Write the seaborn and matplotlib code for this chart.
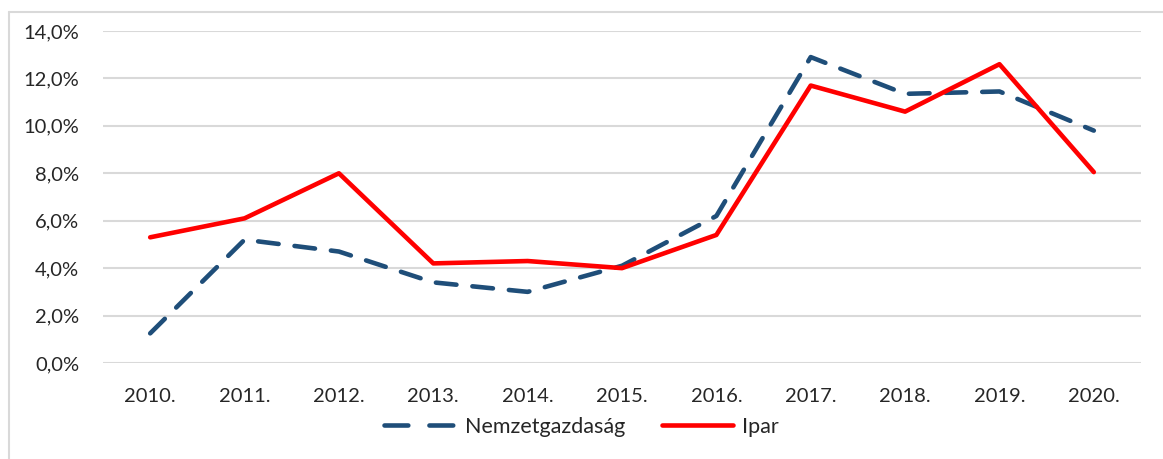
import numpy as np
import pandas as pd
import matplotlib
matplotlib.use("Agg")
import matplotlib.pyplot as plt
import seaborn as sns
from matplotlib.lines import Line2D
from matplotlib.ticker import FuncFormatter

years = ["2010.", "2011.", "2012.", "2013.", "2014.", "2015.", "2016.", "2017.", "2018.", "2019.", "2020."]
nemzetgazdasag = [1.25, 5.2, 4.7, 3.4, 3.0, 4.1, 6.2, 12.9, 11.35, 11.45, 9.8]
ipar = [5.3, 6.1, 8.0, 4.2, 4.3, 4.0, 5.4, 11.7, 10.6, 12.6, 8.05]
series_names = ["Nemzetgazdaság", "Ipar"]
yticks = [0, 2, 4, 6, 8, 10, 12, 14]

sns.set_theme(style="white")
plt.rcParams['font.family'] = ['Lato', 'DejaVu Sans']

W, H = 1163, 459
fig = plt.figure(figsize=(W / 100, H / 100), dpi=100)
ax = fig.add_axes([103 / W, 1 - 363 / H, (1141 - 103) / W, (363 - 31) / H])

df = pd.DataFrame({
    "value": nemzetgazdasag + ipar,
    "series": [series_names[0]] * len(years) + [series_names[1]] * len(years),
})
df["x"] = list(range(len(years))) * 2

palette = {series_names[0]: "#1F4E79", series_names[1]: "#FF0000"}
sns.lineplot(data=df[df.series == series_names[0]], x="x", y="value", ax=ax,
             color=palette[series_names[0]], linewidth=3.3, legend=False)
sns.lineplot(data=df[df.series == series_names[1]], x="x", y="value", ax=ax,
             color=palette[series_names[1]], linewidth=3.3, legend=False)
l0, l1 = ax.get_lines()[0], ax.get_lines()[1]
l0.set_dashes([4.5, 3.5])
l0.set_dash_capstyle("round")
l1.set_solid_capstyle("round")
l0.set_zorder(3)
l1.set_zorder(4)

ax.set_xlim(-0.5, len(years) - 0.5)
ax.set_ylim(0, 14)
ax.set_yticks(yticks)
ax.yaxis.set_major_formatter(FuncFormatter(lambda v, p: f"{v:.1f}%".replace(".", ",")))
ax.set_xticks(range(len(years)))
ax.set_xticklabels(years)
ax.grid(axis="y", color="#D9D9D9", linewidth=1.5)
ax.set_axisbelow(True)
for s in ax.spines.values():
    s.set_visible(False)
ax.tick_params(axis="both", length=0, labelsize=14.5, colors="#262626")
ax.tick_params(axis="y", pad=17)
ax.tick_params(axis="x", pad=18)
ax.set_xlabel("")
ax.set_ylabel("")

handles = [
    Line2D([0], [0], color=palette[series_names[0]], linewidth=3.3, dashes=[5.2, 4.6], dash_capstyle="round"),
    Line2D([0], [0], color=palette[series_names[1]], linewidth=3.3, solid_capstyle="round"),
]
fig.legend(handles, series_names, loc="center", bbox_to_anchor=(0.5, 1 - 427 / H),
           ncol=2, frameon=False, fontsize=15.5, handlelength=3.3, columnspacing=1.7,
           handletextpad=0.45, labelcolor="#262626")

# outer chart border (top and left)
fig.add_artist(Line2D([9 / W, 1.0], [1 - 12 / H, 1 - 12 / H], transform=fig.transFigure, color="#D9D9D9", linewidth=1.5))
fig.add_artist(Line2D([9 / W, 9 / W], [0.0, 1 - 12 / H], transform=fig.transFigure, color="#D9D9D9", linewidth=1.5))

fig.savefig("out.png", dpi=100, facecolor="white")
